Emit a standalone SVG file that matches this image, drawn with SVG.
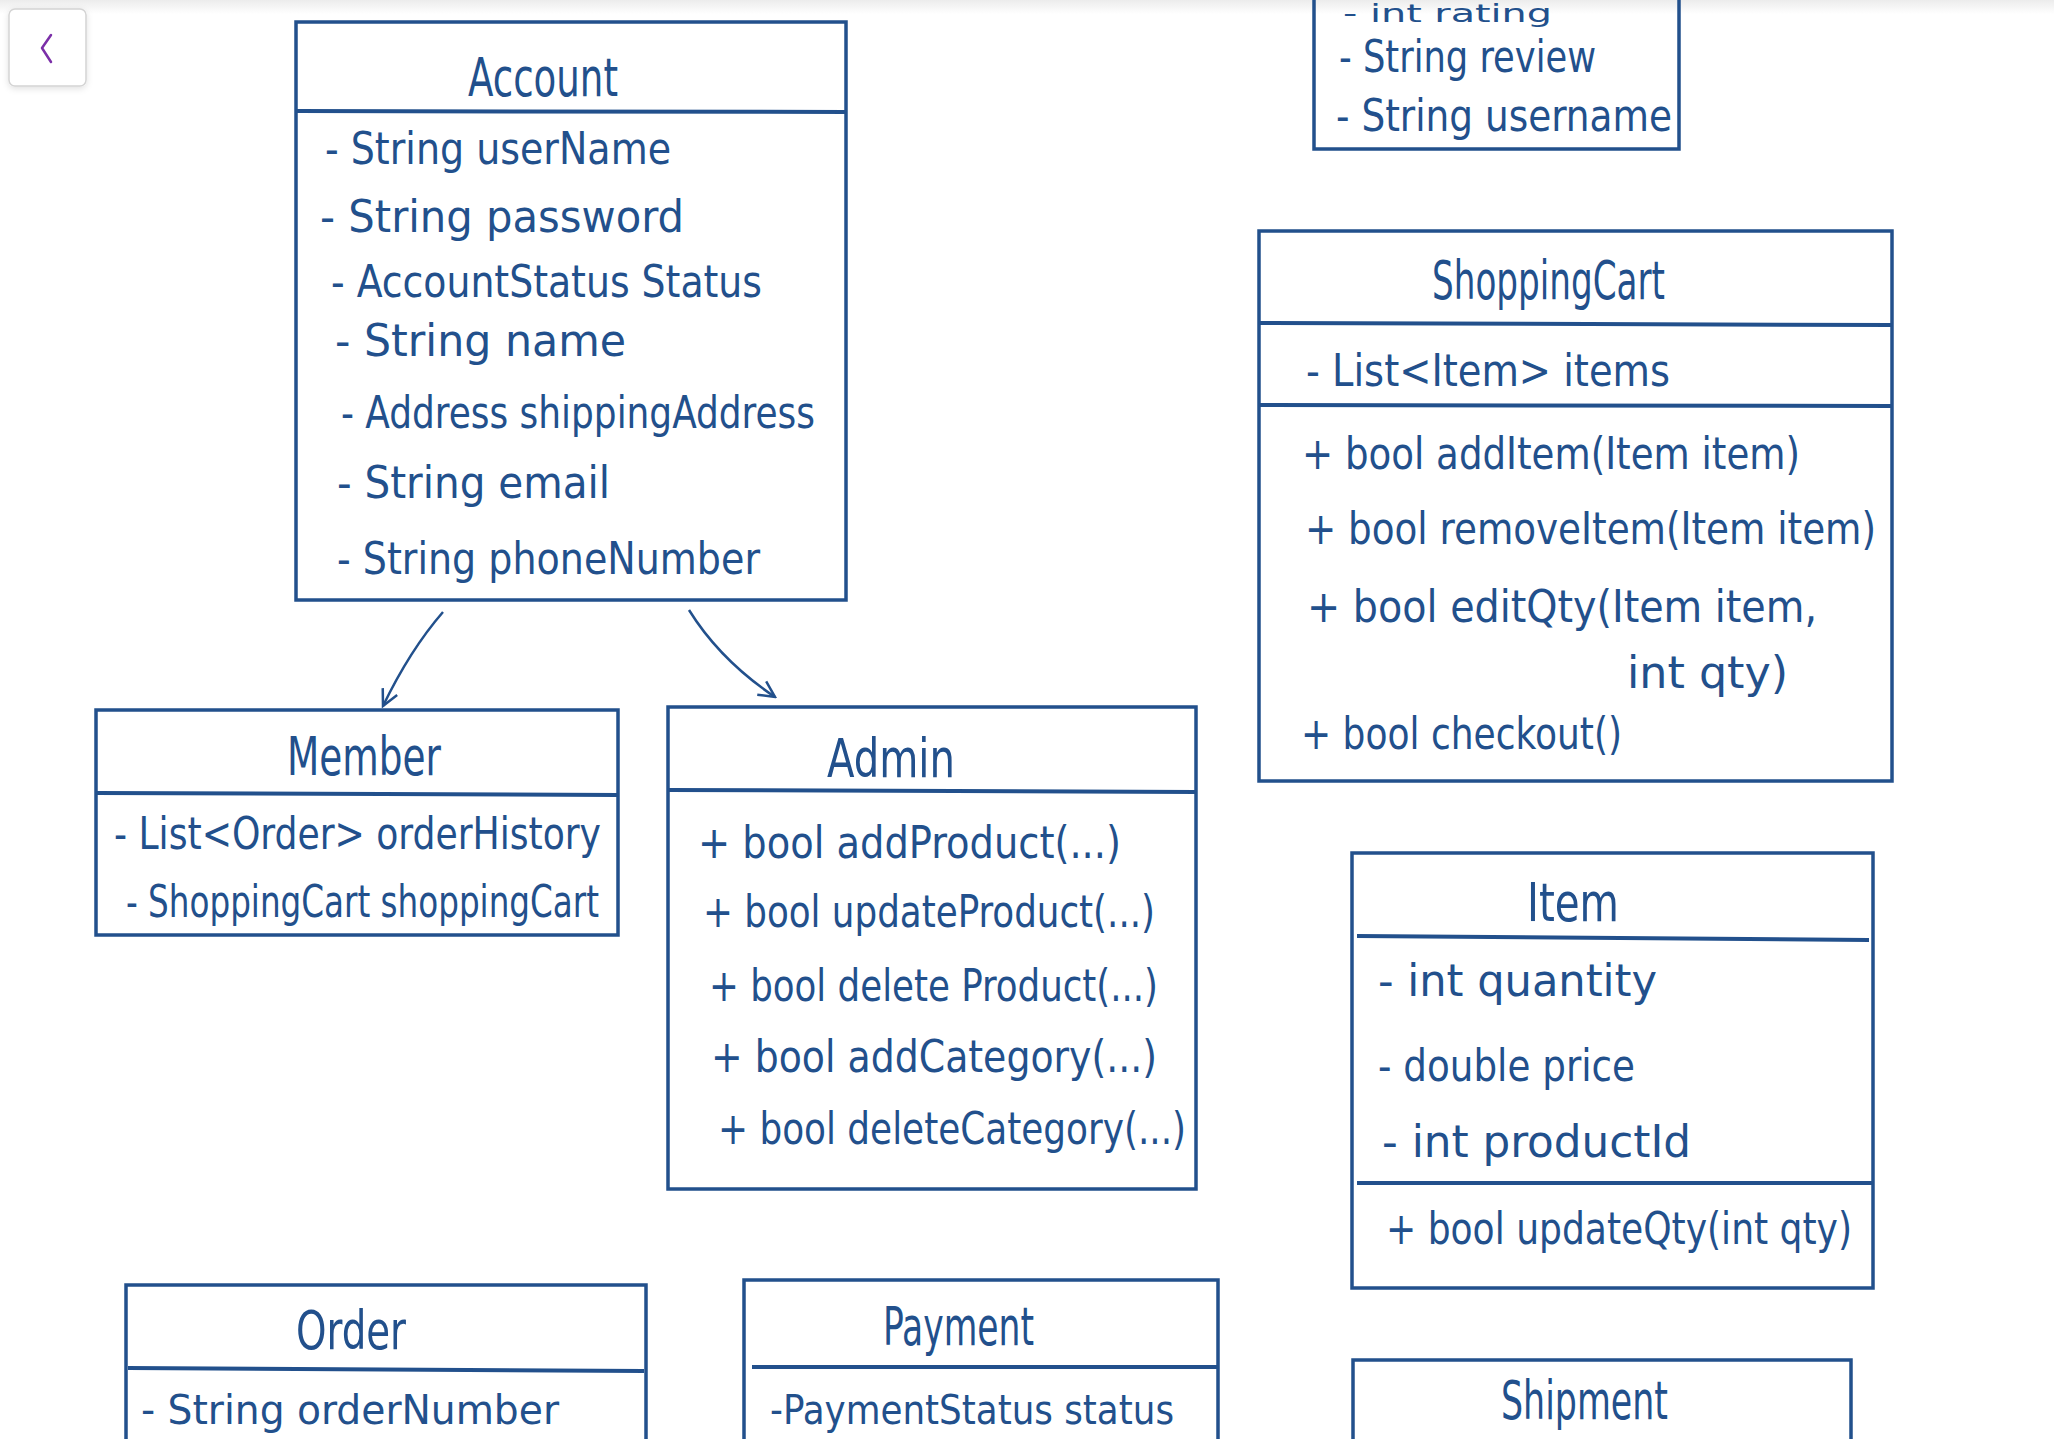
<svg xmlns="http://www.w3.org/2000/svg" width="2054" height="1439" viewBox="0 0 2054 1439">
<defs>
<style>
.box{fill:none;stroke:#22508c;stroke-width:3.5}
.div{stroke:#22508c;stroke-width:4;fill:none}
.t{font-family:"Liberation Sans Narrow","DejaVu Sans Condensed","Liberation Sans",sans-serif;fill:#22508c;font-size:44px}
.h{font-family:"Liberation Sans Narrow","DejaVu Sans Condensed","Liberation Sans",sans-serif;fill:#22508c;font-size:54px}
.con{stroke:#22508c;stroke-width:2.5;fill:none}
</style>
<marker id="arr" viewBox="0 0 20 20" refX="18" refY="10" markerWidth="20" markerHeight="20" markerUnits="userSpaceOnUse" orient="auto">
<path d="M2,2 L18,10 L2,18" fill="none" stroke="#22508c" stroke-width="2.5"/>
</marker>
<linearGradient id="topg" x1="0" y1="0" x2="0" y2="1">
<stop offset="0" stop-color="#ececec"/>
<stop offset="1" stop-color="#ffffff"/>
</linearGradient>
<filter id="sh" x="-30%" y="-30%" width="160%" height="160%">
<feDropShadow dx="0" dy="2" stdDeviation="3" flood-color="#000" flood-opacity="0.12"/>
</filter>
</defs>
<rect x="0" y="0" width="2054" height="1439" fill="#ffffff"/>
<rect x="0" y="0" width="2054" height="14" fill="url(#topg)"/>

<g id="back-button">
<rect x="9" y="9" width="77" height="77" rx="6" fill="#ffffff" stroke="#d4d4d4" stroke-width="1.5" filter="url(#sh)"/>
<path d="M51,35 L42,48 L51,62" fill="none" stroke="#7b2fa8" stroke-width="2.5" stroke-linecap="round" stroke-linejoin="round"/>
</g>

<g id="connectors">
<path class="con" d="M443,612 Q410,650 383,706" marker-end="url(#arr)"/>
<path class="con" d="M689,610 Q720,660 775,697" marker-end="url(#arr)"/>
</g>

<g id="review">
<path class="box" d="M1314,-5 L1314,149 L1679,149 L1679,-5"/>
<text class="t" x="1343" y="22" style="font-size:24px" textLength="209" lengthAdjust="spacingAndGlyphs">- int rating</text>
<text class="t" x="1339" y="72" textLength="257" lengthAdjust="spacingAndGlyphs">- String review</text>
<text class="t" x="1336" y="131" textLength="336" lengthAdjust="spacingAndGlyphs">- String username</text>
</g>

<g id="account">
<rect class="box" x="296" y="22" width="550" height="578"/>
<line class="div" x1="296" y1="111" x2="846" y2="112"/>
<text class="h" x="468" y="96" textLength="150" lengthAdjust="spacingAndGlyphs">Account</text>
<text class="t" x="325" y="164" textLength="346" lengthAdjust="spacingAndGlyphs">- String userName</text>
<text class="t" x="320" y="232" textLength="364" lengthAdjust="spacingAndGlyphs">- String password</text>
<text class="t" x="331" y="297" textLength="431" lengthAdjust="spacingAndGlyphs">- AccountStatus Status</text>
<text class="t" x="335" y="356" textLength="291" lengthAdjust="spacingAndGlyphs">- String name</text>
<text class="t" x="341" y="428" textLength="474" lengthAdjust="spacingAndGlyphs">- Address shippingAddress</text>
<text class="t" x="337" y="498" textLength="273" lengthAdjust="spacingAndGlyphs">- String email</text>
<text class="t" x="337" y="574" textLength="423" lengthAdjust="spacingAndGlyphs">- String phoneNumber</text>
</g>

<g id="member">
<rect class="box" x="96" y="710" width="522" height="225"/>
<line class="div" x1="96" y1="793" x2="618" y2="795"/>
<text class="h" x="287" y="775" textLength="154" lengthAdjust="spacingAndGlyphs">Member</text>
<text class="t" x="114" y="849" textLength="487" lengthAdjust="spacingAndGlyphs">- List&lt;Order&gt; orderHistory</text>
<text class="t" x="126" y="917" textLength="473" lengthAdjust="spacingAndGlyphs">- ShoppingCart shoppingCart</text>
</g>

<g id="admin">
<rect class="box" x="668" y="707" width="528" height="482"/>
<line class="div" x1="668" y1="790" x2="1196" y2="792"/>
<text class="h" x="827" y="777" textLength="128" lengthAdjust="spacingAndGlyphs">Admin</text>
<text class="t" x="698" y="858" textLength="423" lengthAdjust="spacingAndGlyphs">+ bool addProduct(...)</text>
<text class="t" x="703" y="927" textLength="452" lengthAdjust="spacingAndGlyphs">+ bool updateProduct(...)</text>
<text class="t" x="709" y="1001" textLength="449" lengthAdjust="spacingAndGlyphs">+ bool delete Product(...)</text>
<text class="t" x="711" y="1072" textLength="446" lengthAdjust="spacingAndGlyphs">+ bool addCategory(...)</text>
<text class="t" x="718" y="1144" textLength="468" lengthAdjust="spacingAndGlyphs">+ bool deleteCategory(...)</text>
</g>

<g id="shoppingcart">
<rect class="box" x="1259" y="231" width="633" height="550"/>
<line class="div" x1="1259" y1="323" x2="1892" y2="325"/>
<line class="div" x1="1259" y1="405" x2="1892" y2="406"/>
<text class="h" x="1432" y="299" textLength="233" lengthAdjust="spacingAndGlyphs">ShoppingCart</text>
<text class="t" x="1306" y="386" textLength="364" lengthAdjust="spacingAndGlyphs">- List&lt;Item&gt; items</text>
<text class="t" x="1302" y="469" textLength="498" lengthAdjust="spacingAndGlyphs">+ bool addItem(Item item)</text>
<text class="t" x="1305" y="544" textLength="571" lengthAdjust="spacingAndGlyphs">+ bool removeItem(Item item)</text>
<text class="t" x="1307" y="622" textLength="510" lengthAdjust="spacingAndGlyphs">+ bool editQty(Item item,</text>
<text class="t" x="1627" y="688" textLength="161" lengthAdjust="spacingAndGlyphs">int qty)</text>
<text class="t" x="1301" y="749" textLength="321" lengthAdjust="spacingAndGlyphs">+ bool checkout()</text>
</g>

<g id="item">
<rect class="box" x="1352" y="853" width="521" height="435"/>
<line class="div" x1="1357" y1="936" x2="1869" y2="940"/>
<line class="div" x1="1357" y1="1183" x2="1873" y2="1183"/>
<text class="h" x="1527" y="921" textLength="92" lengthAdjust="spacingAndGlyphs">Item</text>
<text class="t" x="1378" y="996" textLength="279" lengthAdjust="spacingAndGlyphs">- int quantity</text>
<text class="t" x="1378" y="1081" textLength="257" lengthAdjust="spacingAndGlyphs">- double price</text>
<text class="t" x="1382" y="1157" textLength="309" lengthAdjust="spacingAndGlyphs">- int productId</text>
<text class="t" x="1386" y="1244" textLength="466" lengthAdjust="spacingAndGlyphs">+ bool updateQty(int qty)</text>
</g>

<g id="shipment">
<path class="box" d="M1353,1445 L1353,1360 L1851,1360 L1851,1445"/>
<text class="h" x="1501" y="1419" textLength="167" lengthAdjust="spacingAndGlyphs">Shipment</text>
</g>

<g id="order">
<path class="box" d="M126,1445 L126,1285 L646,1285 L646,1445"/>
<line class="div" x1="128" y1="1368" x2="644" y2="1371"/>
<text class="h" x="296" y="1349" textLength="110" lengthAdjust="spacingAndGlyphs">Order</text>
<text class="t" x="141" y="1424" style="font-size:40px" textLength="418" lengthAdjust="spacingAndGlyphs">- String orderNumber</text>
</g>

<g id="payment">
<path class="box" d="M744,1445 L744,1280 L1218,1280 L1218,1445"/>
<line class="div" x1="752" y1="1367" x2="1218" y2="1367"/>
<text class="h" x="883" y="1345" textLength="151" lengthAdjust="spacingAndGlyphs">Payment</text>
<text class="t" x="770" y="1424" style="font-size:40px" textLength="404" lengthAdjust="spacingAndGlyphs">-PaymentStatus status</text>
</g>
</svg>
